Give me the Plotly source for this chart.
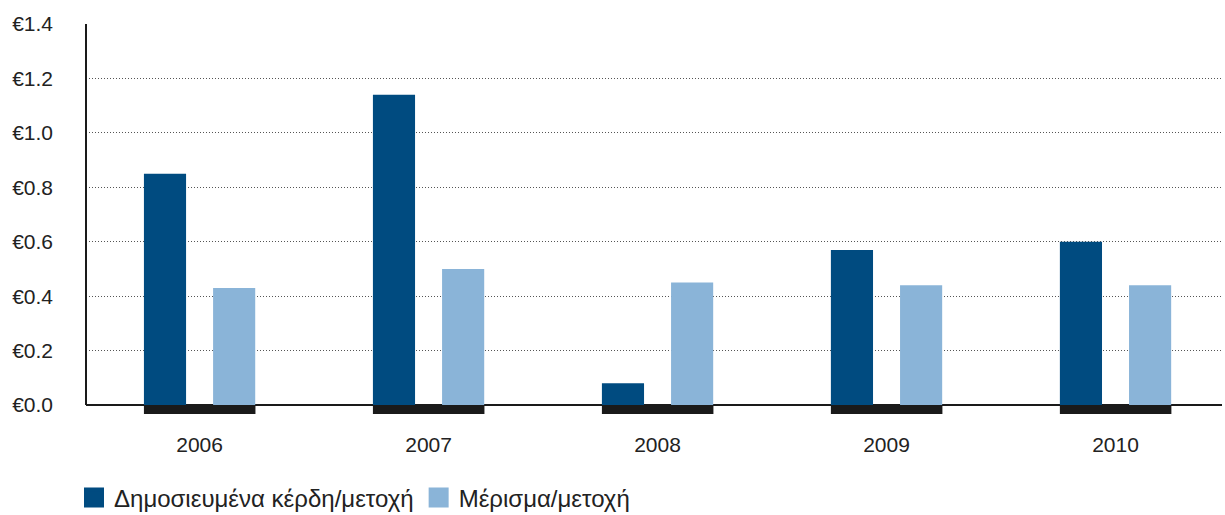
import plotly.graph_objects as go

years = ['2006', '2007', '2008', '2009', '2010']
eps = [0.85, 1.14, 0.08, 0.57, 0.60]
dividend = [0.43, 0.50, 0.45, 0.44, 0.44]
y_ticks = [0.0, 0.2, 0.4, 0.6, 0.8, 1.0, 1.2, 1.4]
y_ticktext = ['€0.0', '€0.2', '€0.4', '€0.6', '€0.8', '€1.0', '€1.2', '€1.4']
eps_name = 'Δημοσιευμένα κέρδη/μετοχή'
div_name = 'Μέρισμα/μετοχή'

dark = '#004B80'
light = '#8AB4D8'
ink = '#1a1a1a'
font = 'Arial, Liberation Sans, sans-serif'

bar_w = 0.184
base_depth = 0.033

fig = go.Figure()

# black plinth under each pair of bars
fig.add_trace(go.Bar(
    x=years, y=[base_depth] * len(years), base=-base_depth,
    width=0.487, offset=-0.243, marker=dict(color=ink, line=dict(width=0)),
    showlegend=False, hoverinfo='skip'
))
fig.add_trace(go.Bar(
    x=years, y=eps, name=eps_name, width=bar_w, offset=-0.243,
    marker=dict(color=dark, line=dict(width=0)), showlegend=False
))
fig.add_trace(go.Bar(
    x=years, y=dividend, name=div_name, width=bar_w, offset=0.059,
    marker=dict(color=light, line=dict(width=0)), showlegend=False
))

# legend swatches (bigger than the default bar icon)
for name, col in [(eps_name, dark), (div_name, light)]:
    fig.add_trace(go.Scatter(
        x=[None], y=[None], mode='markers', name=name,
        marker=dict(symbol='square', size=16, color=col, line=dict(width=4, color=col))
    ))

fig.add_shape(type='line', xref='paper', yref='y', x0=0, x1=0, y0=0, y1=1.4,
              line=dict(color=ink, width=2), layer='above')

plot_h = 515 - 24 - 99
fig.update_layout(
    width=1225, height=515,
    margin=dict(l=86, r=3, t=24, b=99, autoexpand=False),
    barmode='overlay',
    plot_bgcolor='white', paper_bgcolor='white',
    font=dict(family=font, size=21, color='#222'),
    xaxis=dict(
        type='category', range=[-0.496, 4.465], showgrid=False, showline=False,
        ticks='', ticklabelstandoff=14
    ),
    yaxis=dict(
        range=[-0.04, 1.4], tickvals=y_ticks, ticktext=y_ticktext,
        showgrid=True, gridcolor='#555', griddash='1px,2px', gridwidth=1,
        zeroline=True, zerolinecolor=ink, zerolinewidth=2,
        showline=False, ticks='', ticklabelstandoff=32
    ),
    legend=dict(
        orientation='h', xref='paper', yref='paper',
        x=(74 - 86) / 1136, y=(416 - 498) / plot_h, xanchor='left', yanchor='middle',
        itemsizing='trace', font=dict(size=24, color='#222'),
        bgcolor='rgba(0,0,0,0)'
    ),
    showlegend=True
)

# drop the browser's default 8px body margin so the figure sits at the page corner
fig.write_html('out.html', config={'displayModeBar': False},
               post_script="document.body.style.margin='0';")
